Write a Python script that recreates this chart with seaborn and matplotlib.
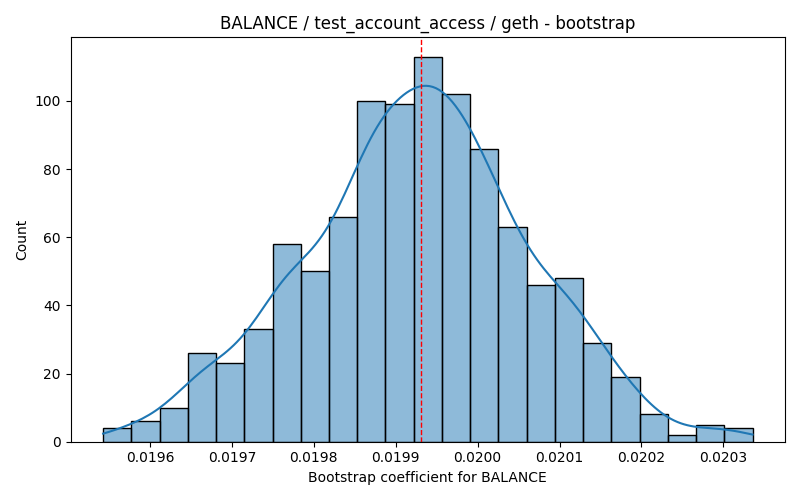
import numpy as np
import matplotlib
matplotlib.use("Agg")
import matplotlib.pyplot as plt
import seaborn as sns

# bootstrap histogram
bin_start = 0.0195427
bin_end = 0.0203357
counts = [4, 6, 10, 26, 23, 33, 58, 50, 66, 100, 99, 113, 102,
          86, 63, 46, 48, 29, 19, 8, 2, 5, 4]
coef_estimate = 0.019931

edges = np.linspace(bin_start, bin_end, len(counts) + 1)
centers = (edges[:-1] + edges[1:]) / 2
samples = np.repeat(centers, counts)

fig, ax = plt.subplots(figsize=(8, 5), dpi=100)
sns.histplot(x=samples, bins=edges, kde=True, ax=ax,
             kde_kws={"cut": 3, "clip": (edges[0], edges[-1])})
ax.axvline(coef_estimate, color="red", linestyle="--", linewidth=1)
ax.set_title("BALANCE / test_account_access / geth - bootstrap")
ax.set_xlabel("Bootstrap coefficient for BALANCE")
ax.set_ylabel("Count")
plt.tight_layout()
plt.savefig("out.png")
